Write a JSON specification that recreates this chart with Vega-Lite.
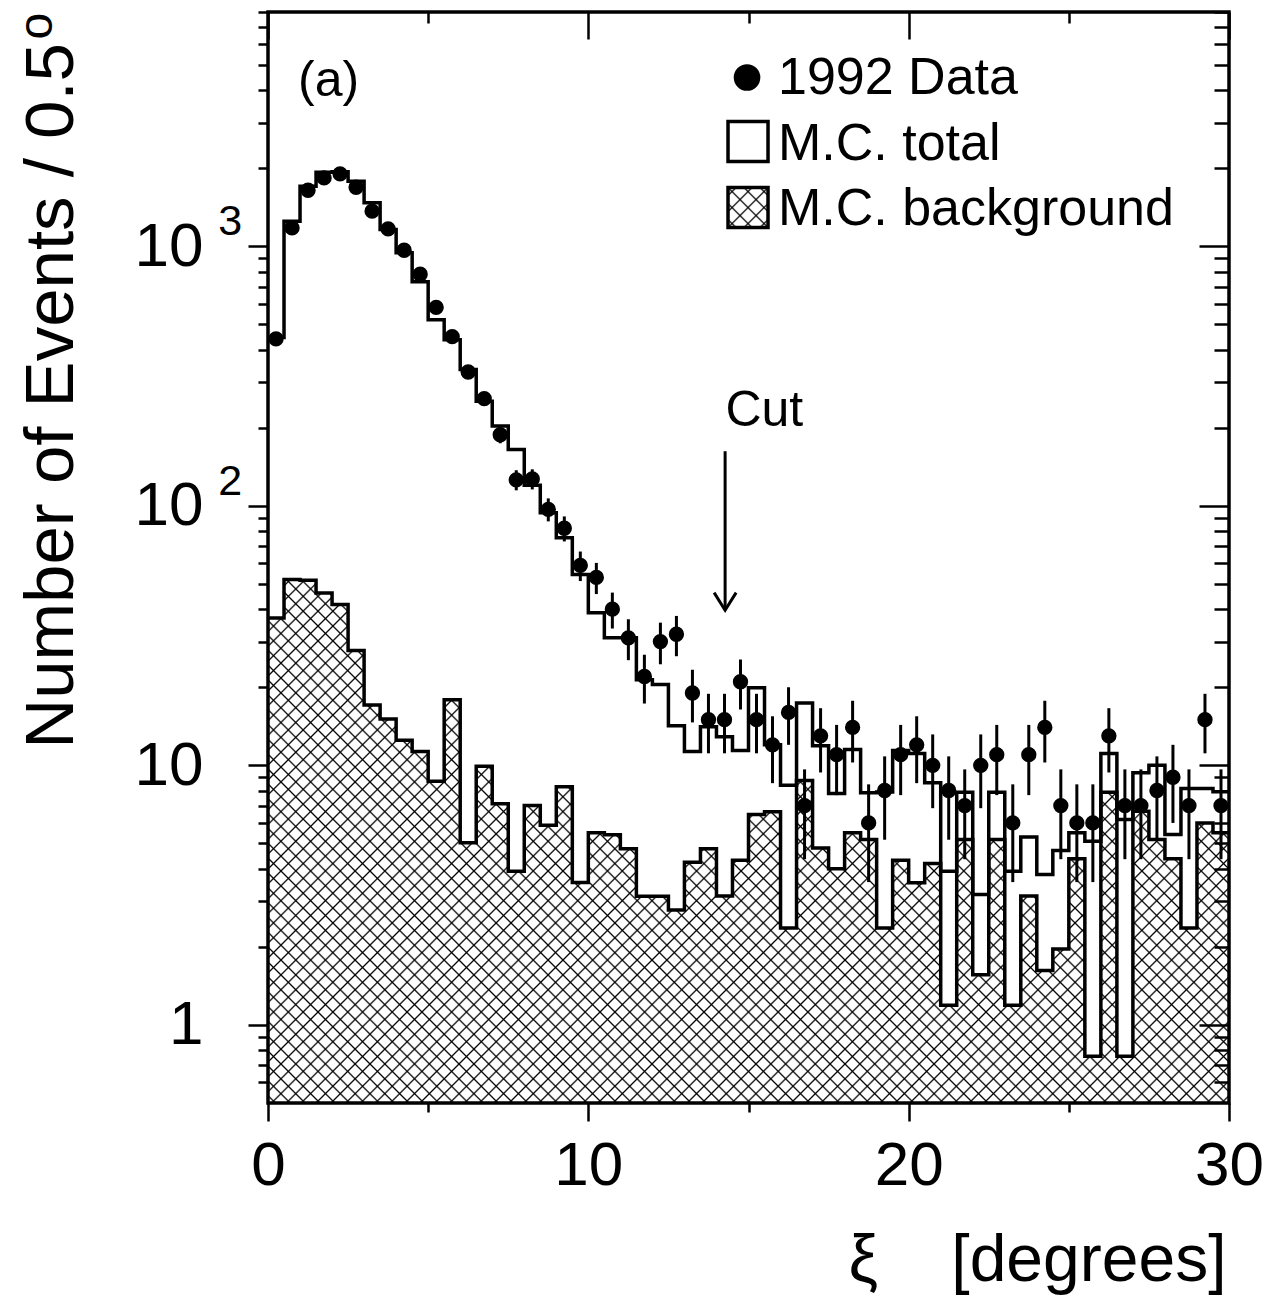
{
"$schema": "https://vega.github.io/schema/vega-lite/v6.json",
"width": 961, "height": 1091,
"autosize": "none",
"padding": {"left": 268, "top": 12, "right": 47, "bottom": 202},
"background": "white",
"config": {"view": {"stroke": "black", "strokeWidth": 3.5}, "font": "Liberation Sans"},
"datasets": {
"h": [
{"bin":0,"x0":0,"x1":0.5,"xc":0.25,"n":440,"lo":419.0,"hi":461.0,"tot":445,"bg":37.0},
{"bin":1,"x0":0.5,"x1":1.0,"xc":0.75,"n":1178,"lo":1143.7,"hi":1212.3,"tot":1250,"bg":52.0},
{"bin":2,"x0":1.0,"x1":1.5,"xc":1.25,"n":1645,"lo":1604.4,"hi":1685.6,"tot":1706,"bg":51.7},
{"bin":3,"x0":1.5,"x1":2.0,"xc":1.75,"n":1836,"lo":1793.2,"hi":1878.8,"tot":1931,"bg":46.2},
{"bin":4,"x0":2.0,"x1":2.5,"xc":2.25,"n":1903,"lo":1859.4,"hi":1946.6,"tot":1940,"bg":41.7},
{"bin":5,"x0":2.5,"x1":3.0,"xc":2.75,"n":1690,"lo":1648.9,"hi":1731.1,"tot":1780,"bg":27.7},
{"bin":6,"x0":3.0,"x1":3.5,"xc":3.25,"n":1367,"lo":1330.0,"hi":1404.0,"tot":1471,"bg":17.1},
{"bin":7,"x0":3.5,"x1":4.0,"xc":3.75,"n":1167,"lo":1132.8,"hi":1201.2,"tot":1161,"bg":15.1},
{"bin":8,"x0":4.0,"x1":4.5,"xc":4.25,"n":966,"lo":934.9,"hi":997.1,"tot":944,"bg":12.5},
{"bin":9,"x0":4.5,"x1":5.0,"xc":4.75,"n":781,"lo":753.1,"hi":809.0,"tot":730,"bg":11.3},
{"bin":10,"x0":5.0,"x1":5.5,"xc":5.25,"n":582,"lo":557.9,"hi":606.1,"tot":522,"bg":8.69},
{"bin":11,"x0":5.5,"x1":6.0,"xc":5.75,"n":449,"lo":427.8,"hi":470.2,"tot":437,"bg":17.9},
{"bin":12,"x0":6.0,"x1":6.5,"xc":6.25,"n":328,"lo":309.9,"hi":346.1,"tot":335,"bg":5.03},
{"bin":13,"x0":6.5,"x1":7.0,"xc":6.75,"n":259,"lo":242.9,"hi":275.1,"tot":253,"bg":9.93},
{"bin":14,"x0":7.0,"x1":7.5,"xc":7.25,"n":188,"lo":174.3,"hi":201.7,"tot":203,"bg":7.11},
{"bin":15,"x0":7.5,"x1":8.0,"xc":7.75,"n":126,"lo":114.8,"hi":137.2,"tot":165,"bg":3.91},
{"bin":16,"x0":8.0,"x1":8.5,"xc":8.25,"n":127,"lo":115.7,"hi":138.3,"tot":120,"bg":7.0},
{"bin":17,"x0":8.5,"x1":9.0,"xc":8.75,"n":97,"lo":87.15,"hi":106.85,"tot":94,"bg":5.88},
{"bin":18,"x0":9.0,"x1":9.5,"xc":9.25,"n":82,"lo":72.94,"hi":91.06,"tot":75.3,"bg":8.27},
{"bin":19,"x0":9.5,"x1":10.0,"xc":9.75,"n":59,"lo":51.32,"hi":66.68,"tot":54.4,"bg":3.54},
{"bin":20,"x0":10.0,"x1":10.5,"xc":10.25,"n":53,"lo":45.72,"hi":60.28,"tot":38.7,"bg":5.5},
{"bin":21,"x0":10.5,"x1":11.0,"xc":10.75,"n":40,"lo":33.68,"hi":46.32,"tot":31.0,"bg":5.4},
{"bin":22,"x0":11.0,"x1":11.5,"xc":11.25,"n":31,"lo":25.43,"hi":36.57,"tot":31.0,"bg":4.77},
{"bin":23,"x0":11.5,"x1":12.0,"xc":11.75,"n":22,"lo":17.31,"hi":26.69,"tot":21.4,"bg":3.13},
{"bin":24,"x0":12.0,"x1":12.5,"xc":12.25,"n":30,"lo":24.52,"hi":35.48,"tot":20.5,"bg":3.13},
{"bin":25,"x0":12.5,"x1":13.0,"xc":12.75,"n":32,"lo":26.34,"hi":37.66,"tot":14.2,"bg":2.77},
{"bin":26,"x0":13.0,"x1":13.5,"xc":13.25,"n":19,"lo":14.64,"hi":23.36,"tot":11.3,"bg":4.23},
{"bin":27,"x0":13.5,"x1":14.0,"xc":13.75,"n":15,"lo":11.13,"hi":18.87,"tot":14.1,"bg":4.77},
{"bin":28,"x0":14.0,"x1":14.5,"xc":14.25,"n":15,"lo":11.13,"hi":18.87,"tot":12.9,"bg":3.14},
{"bin":29,"x0":14.5,"x1":15.0,"xc":14.75,"n":21,"lo":16.42,"hi":25.58,"tot":11.4,"bg":4.31},
{"bin":30,"x0":15.0,"x1":15.5,"xc":15.25,"n":15,"lo":11.13,"hi":18.87,"tot":19.9,"bg":6.46},
{"bin":31,"x0":15.5,"x1":16.0,"xc":15.75,"n":12,"lo":8.54,"hi":15.46,"tot":12.0,"bg":6.62},
{"bin":32,"x0":16.0,"x1":16.5,"xc":16.25,"n":16,"lo":12,"hi":20,"tot":8.38,"bg":2.36},
{"bin":33,"x0":16.5,"x1":17.0,"xc":16.75,"n":7,"lo":4.35,"hi":9.65,"tot":17.4,"bg":8.74},
{"bin":34,"x0":17.0,"x1":17.5,"xc":17.25,"n":13,"lo":9.39,"hi":16.61,"tot":11.9,"bg":4.8},
{"bin":35,"x0":17.5,"x1":18.0,"xc":17.75,"n":11,"lo":7.68,"hi":14.32,"tot":7.8,"bg":4.0},
{"bin":36,"x0":18.0,"x1":18.5,"xc":18.25,"n":14,"lo":10.26,"hi":17.74,"tot":11.5,"bg":5.5},
{"bin":37,"x0":18.5,"x1":19.0,"xc":18.75,"n":6,"lo":3.55,"hi":8.45,"tot":7.85,"bg":5.18},
{"bin":38,"x0":19.0,"x1":19.5,"xc":19.25,"n":8,"lo":5.17,"hi":10.83,"tot":7.9,"bg":2.36},
{"bin":39,"x0":19.5,"x1":20.0,"xc":19.75,"n":11,"lo":7.68,"hi":14.32,"tot":11.4,"bg":4.31},
{"bin":40,"x0":20.0,"x1":20.5,"xc":20.25,"n":12,"lo":8.54,"hi":15.46,"tot":11.1,"bg":3.53},
{"bin":41,"x0":20.5,"x1":21.0,"xc":20.75,"n":10,"lo":6.84,"hi":13.16,"tot":8.57,"bg":4.19},
{"bin":42,"x0":21.0,"x1":21.5,"xc":21.25,"n":8,"lo":5.17,"hi":10.83,"tot":3.91,"bg":1.19},
{"bin":43,"x0":21.5,"x1":22.0,"xc":21.75,"n":7,"lo":4.35,"hi":9.65,"tot":7.88,"bg":5.18},
{"bin":44,"x0":22.0,"x1":22.5,"xc":22.25,"n":10,"lo":6.84,"hi":13.16,"tot":3.18,"bg":1.56},
{"bin":45,"x0":22.5,"x1":23.0,"xc":22.75,"n":11,"lo":7.68,"hi":14.32,"tot":7.88,"bg":5.18},
{"bin":46,"x0":23.0,"x1":23.5,"xc":23.25,"n":6,"lo":3.55,"hi":8.45,"tot":3.91,"bg":1.19},
{"bin":47,"x0":23.5,"x1":24.0,"xc":23.75,"n":11,"lo":7.68,"hi":14.32,"tot":5.3,"bg":3.14},
{"bin":48,"x0":24.0,"x1":24.5,"xc":24.25,"n":14,"lo":10.26,"hi":17.74,"tot":3.8,"bg":1.62},
{"bin":49,"x0":24.5,"x1":25.0,"xc":24.75,"n":7,"lo":4.35,"hi":9.65,"tot":4.7,"bg":1.96},
{"bin":50,"x0":25.0,"x1":25.5,"xc":25.25,"n":6,"lo":3.55,"hi":8.45,"tot":5.5,"bg":4.37},
{"bin":51,"x0":25.5,"x1":26.0,"xc":25.75,"n":6,"lo":3.55,"hi":8.45,"tot":5.1,"bg":0.757},
{"bin":52,"x0":26.0,"x1":26.5,"xc":26.25,"n":13,"lo":9.39,"hi":16.61,"tot":11.1,"bg":7.88},
{"bin":53,"x0":26.5,"x1":27.0,"xc":26.75,"n":7,"lo":4.35,"hi":9.65,"tot":6.18,"bg":0.757},
{"bin":54,"x0":27.0,"x1":27.5,"xc":27.25,"n":7,"lo":4.35,"hi":9.65,"tot":9.36,"bg":6.66},
{"bin":55,"x0":27.5,"x1":28.0,"xc":27.75,"n":8,"lo":5.17,"hi":10.83,"tot":10.0,"bg":5.18},
{"bin":56,"x0":28.0,"x1":28.5,"xc":28.25,"n":9,"lo":6,"hi":12,"tot":5.41,"bg":4.37},
{"bin":57,"x0":28.5,"x1":29.0,"xc":28.75,"n":7,"lo":4.35,"hi":9.65,"tot":8.14,"bg":2.36},
{"bin":58,"x0":29.0,"x1":29.5,"xc":29.25,"n":15,"lo":11.13,"hi":18.87,"tot":8.14,"bg":6.0},
{"bin":59,"x0":29.5,"x1":30.0,"xc":29.75,"n":7,"lo":4.35,"hi":9.65,"tot":7.91,"bg":5.5}
]
},
"resolve": {"axis": {"x": "independent", "y": "independent"}},
"layer": [
{
"data": {"name": "h"},
"transform": [{"fold": ["x0", "x1"], "as": ["edge", "xe"]}],
"mark": {"type": "area", "orient": "vertical", "opacity": 1, "fill": {"gradient": "linear", "x1": 0, "y1": 0, "x2": 1.19126, "y2": 0.64884, "stops": [
{"offset":0.0038,"color":"transparent"},{"offset":0.005,"color":"#000"},{"offset":0.0062,"color":"transparent"},
{"offset":0.0138,"color":"transparent"},{"offset":0.015,"color":"#000"},{"offset":0.0162,"color":"transparent"},
{"offset":0.0238,"color":"transparent"},{"offset":0.025,"color":"#000"},{"offset":0.0262,"color":"transparent"},
{"offset":0.0338,"color":"transparent"},{"offset":0.035,"color":"#000"},{"offset":0.0362,"color":"transparent"},
{"offset":0.0438,"color":"transparent"},{"offset":0.045,"color":"#000"},{"offset":0.0462,"color":"transparent"},
{"offset":0.0538,"color":"transparent"},{"offset":0.055,"color":"#000"},{"offset":0.0562,"color":"transparent"},
{"offset":0.0638,"color":"transparent"},{"offset":0.065,"color":"#000"},{"offset":0.0662,"color":"transparent"},
{"offset":0.0738,"color":"transparent"},{"offset":0.075,"color":"#000"},{"offset":0.0762,"color":"transparent"},
{"offset":0.0838,"color":"transparent"},{"offset":0.085,"color":"#000"},{"offset":0.0862,"color":"transparent"},
{"offset":0.0938,"color":"transparent"},{"offset":0.095,"color":"#000"},{"offset":0.0962,"color":"transparent"},
{"offset":0.1038,"color":"transparent"},{"offset":0.105,"color":"#000"},{"offset":0.1062,"color":"transparent"},
{"offset":0.1138,"color":"transparent"},{"offset":0.115,"color":"#000"},{"offset":0.1162,"color":"transparent"},
{"offset":0.1238,"color":"transparent"},{"offset":0.125,"color":"#000"},{"offset":0.1262,"color":"transparent"},
{"offset":0.1338,"color":"transparent"},{"offset":0.135,"color":"#000"},{"offset":0.1362,"color":"transparent"},
{"offset":0.1438,"color":"transparent"},{"offset":0.145,"color":"#000"},{"offset":0.1462,"color":"transparent"},
{"offset":0.1538,"color":"transparent"},{"offset":0.155,"color":"#000"},{"offset":0.1562,"color":"transparent"},
{"offset":0.1638,"color":"transparent"},{"offset":0.165,"color":"#000"},{"offset":0.1662,"color":"transparent"},
{"offset":0.1738,"color":"transparent"},{"offset":0.175,"color":"#000"},{"offset":0.1762,"color":"transparent"},
{"offset":0.1838,"color":"transparent"},{"offset":0.185,"color":"#000"},{"offset":0.1862,"color":"transparent"},
{"offset":0.1938,"color":"transparent"},{"offset":0.195,"color":"#000"},{"offset":0.1962,"color":"transparent"},
{"offset":0.2038,"color":"transparent"},{"offset":0.205,"color":"#000"},{"offset":0.2062,"color":"transparent"},
{"offset":0.2138,"color":"transparent"},{"offset":0.215,"color":"#000"},{"offset":0.2162,"color":"transparent"},
{"offset":0.2238,"color":"transparent"},{"offset":0.225,"color":"#000"},{"offset":0.2262,"color":"transparent"},
{"offset":0.2338,"color":"transparent"},{"offset":0.235,"color":"#000"},{"offset":0.2362,"color":"transparent"},
{"offset":0.2438,"color":"transparent"},{"offset":0.245,"color":"#000"},{"offset":0.2462,"color":"transparent"},
{"offset":0.2538,"color":"transparent"},{"offset":0.255,"color":"#000"},{"offset":0.2562,"color":"transparent"},
{"offset":0.2638,"color":"transparent"},{"offset":0.265,"color":"#000"},{"offset":0.2662,"color":"transparent"},
{"offset":0.2738,"color":"transparent"},{"offset":0.275,"color":"#000"},{"offset":0.2762,"color":"transparent"},
{"offset":0.2838,"color":"transparent"},{"offset":0.285,"color":"#000"},{"offset":0.2862,"color":"transparent"},
{"offset":0.2938,"color":"transparent"},{"offset":0.295,"color":"#000"},{"offset":0.2962,"color":"transparent"},
{"offset":0.3038,"color":"transparent"},{"offset":0.305,"color":"#000"},{"offset":0.3062,"color":"transparent"},
{"offset":0.3138,"color":"transparent"},{"offset":0.315,"color":"#000"},{"offset":0.3162,"color":"transparent"},
{"offset":0.3238,"color":"transparent"},{"offset":0.325,"color":"#000"},{"offset":0.3262,"color":"transparent"},
{"offset":0.3338,"color":"transparent"},{"offset":0.335,"color":"#000"},{"offset":0.3362,"color":"transparent"},
{"offset":0.3438,"color":"transparent"},{"offset":0.345,"color":"#000"},{"offset":0.3462,"color":"transparent"},
{"offset":0.3538,"color":"transparent"},{"offset":0.355,"color":"#000"},{"offset":0.3562,"color":"transparent"},
{"offset":0.3638,"color":"transparent"},{"offset":0.365,"color":"#000"},{"offset":0.3662,"color":"transparent"},
{"offset":0.3738,"color":"transparent"},{"offset":0.375,"color":"#000"},{"offset":0.3762,"color":"transparent"},
{"offset":0.3838,"color":"transparent"},{"offset":0.385,"color":"#000"},{"offset":0.3862,"color":"transparent"},
{"offset":0.3938,"color":"transparent"},{"offset":0.395,"color":"#000"},{"offset":0.3962,"color":"transparent"},
{"offset":0.4038,"color":"transparent"},{"offset":0.405,"color":"#000"},{"offset":0.4062,"color":"transparent"},
{"offset":0.4138,"color":"transparent"},{"offset":0.415,"color":"#000"},{"offset":0.4162,"color":"transparent"},
{"offset":0.4238,"color":"transparent"},{"offset":0.425,"color":"#000"},{"offset":0.4262,"color":"transparent"},
{"offset":0.4338,"color":"transparent"},{"offset":0.435,"color":"#000"},{"offset":0.4362,"color":"transparent"},
{"offset":0.4438,"color":"transparent"},{"offset":0.445,"color":"#000"},{"offset":0.4462,"color":"transparent"},
{"offset":0.4538,"color":"transparent"},{"offset":0.455,"color":"#000"},{"offset":0.4562,"color":"transparent"},
{"offset":0.4638,"color":"transparent"},{"offset":0.465,"color":"#000"},{"offset":0.4662,"color":"transparent"},
{"offset":0.4738,"color":"transparent"},{"offset":0.475,"color":"#000"},{"offset":0.4762,"color":"transparent"},
{"offset":0.4838,"color":"transparent"},{"offset":0.485,"color":"#000"},{"offset":0.4862,"color":"transparent"},
{"offset":0.4938,"color":"transparent"},{"offset":0.495,"color":"#000"},{"offset":0.4962,"color":"transparent"},
{"offset":0.5038,"color":"transparent"},{"offset":0.505,"color":"#000"},{"offset":0.5062,"color":"transparent"},
{"offset":0.5138,"color":"transparent"},{"offset":0.515,"color":"#000"},{"offset":0.5162,"color":"transparent"},
{"offset":0.5238,"color":"transparent"},{"offset":0.525,"color":"#000"},{"offset":0.5262,"color":"transparent"},
{"offset":0.5338,"color":"transparent"},{"offset":0.535,"color":"#000"},{"offset":0.5362,"color":"transparent"},
{"offset":0.5438,"color":"transparent"},{"offset":0.545,"color":"#000"},{"offset":0.5462,"color":"transparent"},
{"offset":0.5538,"color":"transparent"},{"offset":0.555,"color":"#000"},{"offset":0.5562,"color":"transparent"},
{"offset":0.5638,"color":"transparent"},{"offset":0.565,"color":"#000"},{"offset":0.5662,"color":"transparent"},
{"offset":0.5738,"color":"transparent"},{"offset":0.575,"color":"#000"},{"offset":0.5762,"color":"transparent"},
{"offset":0.5838,"color":"transparent"},{"offset":0.585,"color":"#000"},{"offset":0.5862,"color":"transparent"},
{"offset":0.5938,"color":"transparent"},{"offset":0.595,"color":"#000"},{"offset":0.5962,"color":"transparent"},
{"offset":0.6038,"color":"transparent"},{"offset":0.605,"color":"#000"},{"offset":0.6062,"color":"transparent"},
{"offset":0.6138,"color":"transparent"},{"offset":0.615,"color":"#000"},{"offset":0.6162,"color":"transparent"},
{"offset":0.6238,"color":"transparent"},{"offset":0.625,"color":"#000"},{"offset":0.6262,"color":"transparent"},
{"offset":0.6338,"color":"transparent"},{"offset":0.635,"color":"#000"},{"offset":0.6362,"color":"transparent"},
{"offset":0.6438,"color":"transparent"},{"offset":0.645,"color":"#000"},{"offset":0.6462,"color":"transparent"},
{"offset":0.6538,"color":"transparent"},{"offset":0.655,"color":"#000"},{"offset":0.6562,"color":"transparent"},
{"offset":0.6638,"color":"transparent"},{"offset":0.665,"color":"#000"},{"offset":0.6662,"color":"transparent"},
{"offset":0.6738,"color":"transparent"},{"offset":0.675,"color":"#000"},{"offset":0.6762,"color":"transparent"},
{"offset":0.6838,"color":"transparent"},{"offset":0.685,"color":"#000"},{"offset":0.6862,"color":"transparent"},
{"offset":0.6938,"color":"transparent"},{"offset":0.695,"color":"#000"},{"offset":0.6962,"color":"transparent"},
{"offset":0.7038,"color":"transparent"},{"offset":0.705,"color":"#000"},{"offset":0.7062,"color":"transparent"},
{"offset":0.7138,"color":"transparent"},{"offset":0.715,"color":"#000"},{"offset":0.7162,"color":"transparent"},
{"offset":0.7238,"color":"transparent"},{"offset":0.725,"color":"#000"},{"offset":0.7262,"color":"transparent"},
{"offset":0.7338,"color":"transparent"},{"offset":0.735,"color":"#000"},{"offset":0.7362,"color":"transparent"},
{"offset":0.7438,"color":"transparent"},{"offset":0.745,"color":"#000"},{"offset":0.7462,"color":"transparent"},
{"offset":0.7538,"color":"transparent"},{"offset":0.755,"color":"#000"},{"offset":0.7562,"color":"transparent"},
{"offset":0.7638,"color":"transparent"},{"offset":0.765,"color":"#000"},{"offset":0.7662,"color":"transparent"},
{"offset":0.7738,"color":"transparent"},{"offset":0.775,"color":"#000"},{"offset":0.7762,"color":"transparent"},
{"offset":0.7838,"color":"transparent"},{"offset":0.785,"color":"#000"},{"offset":0.7862,"color":"transparent"},
{"offset":0.7938,"color":"transparent"},{"offset":0.795,"color":"#000"},{"offset":0.7962,"color":"transparent"},
{"offset":0.8038,"color":"transparent"},{"offset":0.805,"color":"#000"},{"offset":0.8062,"color":"transparent"},
{"offset":0.8138,"color":"transparent"},{"offset":0.815,"color":"#000"},{"offset":0.8162,"color":"transparent"},
{"offset":0.8238,"color":"transparent"},{"offset":0.825,"color":"#000"},{"offset":0.8262,"color":"transparent"},
{"offset":0.8338,"color":"transparent"},{"offset":0.835,"color":"#000"},{"offset":0.8362,"color":"transparent"},
{"offset":0.8438,"color":"transparent"},{"offset":0.845,"color":"#000"},{"offset":0.8462,"color":"transparent"},
{"offset":0.8538,"color":"transparent"},{"offset":0.855,"color":"#000"},{"offset":0.8562,"color":"transparent"},
{"offset":0.8638,"color":"transparent"},{"offset":0.865,"color":"#000"},{"offset":0.8662,"color":"transparent"},
{"offset":0.8738,"color":"transparent"},{"offset":0.875,"color":"#000"},{"offset":0.8762,"color":"transparent"},
{"offset":0.8838,"color":"transparent"},{"offset":0.885,"color":"#000"},{"offset":0.8862,"color":"transparent"},
{"offset":0.8938,"color":"transparent"},{"offset":0.895,"color":"#000"},{"offset":0.8962,"color":"transparent"},
{"offset":0.9038,"color":"transparent"},{"offset":0.905,"color":"#000"},{"offset":0.9062,"color":"transparent"},
{"offset":0.9138,"color":"transparent"},{"offset":0.915,"color":"#000"},{"offset":0.9162,"color":"transparent"},
{"offset":0.9238,"color":"transparent"},{"offset":0.925,"color":"#000"},{"offset":0.9262,"color":"transparent"},
{"offset":0.9338,"color":"transparent"},{"offset":0.935,"color":"#000"},{"offset":0.9362,"color":"transparent"},
{"offset":0.9438,"color":"transparent"},{"offset":0.945,"color":"#000"},{"offset":0.9462,"color":"transparent"},
{"offset":0.9538,"color":"transparent"},{"offset":0.955,"color":"#000"},{"offset":0.9562,"color":"transparent"},
{"offset":0.9638,"color":"transparent"},{"offset":0.965,"color":"#000"},{"offset":0.9662,"color":"transparent"},
{"offset":0.9738,"color":"transparent"},{"offset":0.975,"color":"#000"},{"offset":0.9762,"color":"transparent"},
{"offset":0.9838,"color":"transparent"},{"offset":0.985,"color":"#000"},{"offset":0.9862,"color":"transparent"},
{"offset":0.9938,"color":"transparent"},{"offset":0.995,"color":"#000"},{"offset":0.9962,"color":"transparent"}
]}},
"encoding": {
"x": {"field": "xe", "type": "quantitative", "scale": {"domain": [0, 30], "nice": false, "zero": false},
"axis": {"orient": "bottom", "values": [0, 5, 10, 15, 20, 25, 30], "labelExpr": "datum.value % 10 == 0 ? datum.label : ''",
"tickSize": {"condition": {"test": "datum.value % 10 == 0", "value": 18}, "value": 9},
"tickWidth": 2.5, "tickColor": "black", "domain": false, "grid": false,
"labelFont": "Liberation Sans", "labelFontSize": 62, "labelColor": "black", "labelPadding": 14, "labelBaseline": "top", "labelAlign": "center",
"labelFlush": false, "labelOverlap": false, "labelBound": false,
"title": "ξ\u00a0\u00a0\u00a0\u00a0[degrees]", "titleFont": "Liberation Sans", "titleFontSize": 66, "titleFontWeight": "normal", "titleColor": "black",
"titleX": 958, "titleY": 177, "titleAlign": "right", "titleAnchor": "end", "titleBaseline": "alphabetic"}},
"y": {"field": "bg", "type": "quantitative", "scale": {"type": "log", "domain": [0.5, 8000], "nice": false},
"axis": {"orient": "left", "values": [0.6,0.7,0.8,0.9,1,2,3,4,5,6,7,8,9,10,20,30,40,50,60,70,80,90,100,200,300,400,500,600,700,800,900,1000,2000,3000,4000,5000,6000,7000,8000],
"labelExpr": "datum.value == 1 ? '1' : (datum.value == 10 || datum.value == 100 || datum.value == 1000) ? '10' : ''",
"tickSize": {"condition": {"test": "datum.value == 1 || datum.value == 10 || datum.value == 100 || datum.value == 1000", "value": 20}, "value": 10},
"tickWidth": 2.5, "tickColor": "black", "domain": false, "grid": false,
"labelFont": "Liberation Sans", "labelFontSize": 62, "labelColor": "black", "labelPadding": 45, "labelAlign": "right", "labelBaseline": "middle",
"labelFlush": false, "labelOverlap": false, "labelBound": false,
"title": "Number of Events / 0.5", "titleFont": "Liberation Sans", "titleFontSize": 69, "titleFontWeight": "normal", "titleColor": "black",
"titleX": -196, "titleY": 30.5, "titleAngle": 270, "titleAlign": "right", "titleAnchor": "end", "titleBaseline": "alphabetic"}},
"y2": {"datum": 0.5},
"order": [{"field": "bin", "type": "quantitative"}, {"field": "edge", "type": "ordinal"}]
}
},
{
"data": {"name": "h"},
"transform": [{"fold": ["x0", "x1"], "as": ["edge", "xe"]}],
"mark": {"type": "area", "orient": "vertical", "opacity": 1, "fill": {"gradient": "linear", "x1": 0, "y1": 1, "x2": 1.19126, "y2": 0.35116, "stops": [
{"offset":0.0038,"color":"transparent"},{"offset":0.005,"color":"#000"},{"offset":0.0062,"color":"transparent"},
{"offset":0.0138,"color":"transparent"},{"offset":0.015,"color":"#000"},{"offset":0.0162,"color":"transparent"},
{"offset":0.0238,"color":"transparent"},{"offset":0.025,"color":"#000"},{"offset":0.0262,"color":"transparent"},
{"offset":0.0338,"color":"transparent"},{"offset":0.035,"color":"#000"},{"offset":0.0362,"color":"transparent"},
{"offset":0.0438,"color":"transparent"},{"offset":0.045,"color":"#000"},{"offset":0.0462,"color":"transparent"},
{"offset":0.0538,"color":"transparent"},{"offset":0.055,"color":"#000"},{"offset":0.0562,"color":"transparent"},
{"offset":0.0638,"color":"transparent"},{"offset":0.065,"color":"#000"},{"offset":0.0662,"color":"transparent"},
{"offset":0.0738,"color":"transparent"},{"offset":0.075,"color":"#000"},{"offset":0.0762,"color":"transparent"},
{"offset":0.0838,"color":"transparent"},{"offset":0.085,"color":"#000"},{"offset":0.0862,"color":"transparent"},
{"offset":0.0938,"color":"transparent"},{"offset":0.095,"color":"#000"},{"offset":0.0962,"color":"transparent"},
{"offset":0.1038,"color":"transparent"},{"offset":0.105,"color":"#000"},{"offset":0.1062,"color":"transparent"},
{"offset":0.1138,"color":"transparent"},{"offset":0.115,"color":"#000"},{"offset":0.1162,"color":"transparent"},
{"offset":0.1238,"color":"transparent"},{"offset":0.125,"color":"#000"},{"offset":0.1262,"color":"transparent"},
{"offset":0.1338,"color":"transparent"},{"offset":0.135,"color":"#000"},{"offset":0.1362,"color":"transparent"},
{"offset":0.1438,"color":"transparent"},{"offset":0.145,"color":"#000"},{"offset":0.1462,"color":"transparent"},
{"offset":0.1538,"color":"transparent"},{"offset":0.155,"color":"#000"},{"offset":0.1562,"color":"transparent"},
{"offset":0.1638,"color":"transparent"},{"offset":0.165,"color":"#000"},{"offset":0.1662,"color":"transparent"},
{"offset":0.1738,"color":"transparent"},{"offset":0.175,"color":"#000"},{"offset":0.1762,"color":"transparent"},
{"offset":0.1838,"color":"transparent"},{"offset":0.185,"color":"#000"},{"offset":0.1862,"color":"transparent"},
{"offset":0.1938,"color":"transparent"},{"offset":0.195,"color":"#000"},{"offset":0.1962,"color":"transparent"},
{"offset":0.2038,"color":"transparent"},{"offset":0.205,"color":"#000"},{"offset":0.2062,"color":"transparent"},
{"offset":0.2138,"color":"transparent"},{"offset":0.215,"color":"#000"},{"offset":0.2162,"color":"transparent"},
{"offset":0.2238,"color":"transparent"},{"offset":0.225,"color":"#000"},{"offset":0.2262,"color":"transparent"},
{"offset":0.2338,"color":"transparent"},{"offset":0.235,"color":"#000"},{"offset":0.2362,"color":"transparent"},
{"offset":0.2438,"color":"transparent"},{"offset":0.245,"color":"#000"},{"offset":0.2462,"color":"transparent"},
{"offset":0.2538,"color":"transparent"},{"offset":0.255,"color":"#000"},{"offset":0.2562,"color":"transparent"},
{"offset":0.2638,"color":"transparent"},{"offset":0.265,"color":"#000"},{"offset":0.2662,"color":"transparent"},
{"offset":0.2738,"color":"transparent"},{"offset":0.275,"color":"#000"},{"offset":0.2762,"color":"transparent"},
{"offset":0.2838,"color":"transparent"},{"offset":0.285,"color":"#000"},{"offset":0.2862,"color":"transparent"},
{"offset":0.2938,"color":"transparent"},{"offset":0.295,"color":"#000"},{"offset":0.2962,"color":"transparent"},
{"offset":0.3038,"color":"transparent"},{"offset":0.305,"color":"#000"},{"offset":0.3062,"color":"transparent"},
{"offset":0.3138,"color":"transparent"},{"offset":0.315,"color":"#000"},{"offset":0.3162,"color":"transparent"},
{"offset":0.3238,"color":"transparent"},{"offset":0.325,"color":"#000"},{"offset":0.3262,"color":"transparent"},
{"offset":0.3338,"color":"transparent"},{"offset":0.335,"color":"#000"},{"offset":0.3362,"color":"transparent"},
{"offset":0.3438,"color":"transparent"},{"offset":0.345,"color":"#000"},{"offset":0.3462,"color":"transparent"},
{"offset":0.3538,"color":"transparent"},{"offset":0.355,"color":"#000"},{"offset":0.3562,"color":"transparent"},
{"offset":0.3638,"color":"transparent"},{"offset":0.365,"color":"#000"},{"offset":0.3662,"color":"transparent"},
{"offset":0.3738,"color":"transparent"},{"offset":0.375,"color":"#000"},{"offset":0.3762,"color":"transparent"},
{"offset":0.3838,"color":"transparent"},{"offset":0.385,"color":"#000"},{"offset":0.3862,"color":"transparent"},
{"offset":0.3938,"color":"transparent"},{"offset":0.395,"color":"#000"},{"offset":0.3962,"color":"transparent"},
{"offset":0.4038,"color":"transparent"},{"offset":0.405,"color":"#000"},{"offset":0.4062,"color":"transparent"},
{"offset":0.4138,"color":"transparent"},{"offset":0.415,"color":"#000"},{"offset":0.4162,"color":"transparent"},
{"offset":0.4238,"color":"transparent"},{"offset":0.425,"color":"#000"},{"offset":0.4262,"color":"transparent"},
{"offset":0.4338,"color":"transparent"},{"offset":0.435,"color":"#000"},{"offset":0.4362,"color":"transparent"},
{"offset":0.4438,"color":"transparent"},{"offset":0.445,"color":"#000"},{"offset":0.4462,"color":"transparent"},
{"offset":0.4538,"color":"transparent"},{"offset":0.455,"color":"#000"},{"offset":0.4562,"color":"transparent"},
{"offset":0.4638,"color":"transparent"},{"offset":0.465,"color":"#000"},{"offset":0.4662,"color":"transparent"},
{"offset":0.4738,"color":"transparent"},{"offset":0.475,"color":"#000"},{"offset":0.4762,"color":"transparent"},
{"offset":0.4838,"color":"transparent"},{"offset":0.485,"color":"#000"},{"offset":0.4862,"color":"transparent"},
{"offset":0.4938,"color":"transparent"},{"offset":0.495,"color":"#000"},{"offset":0.4962,"color":"transparent"},
{"offset":0.5038,"color":"transparent"},{"offset":0.505,"color":"#000"},{"offset":0.5062,"color":"transparent"},
{"offset":0.5138,"color":"transparent"},{"offset":0.515,"color":"#000"},{"offset":0.5162,"color":"transparent"},
{"offset":0.5238,"color":"transparent"},{"offset":0.525,"color":"#000"},{"offset":0.5262,"color":"transparent"},
{"offset":0.5338,"color":"transparent"},{"offset":0.535,"color":"#000"},{"offset":0.5362,"color":"transparent"},
{"offset":0.5438,"color":"transparent"},{"offset":0.545,"color":"#000"},{"offset":0.5462,"color":"transparent"},
{"offset":0.5538,"color":"transparent"},{"offset":0.555,"color":"#000"},{"offset":0.5562,"color":"transparent"},
{"offset":0.5638,"color":"transparent"},{"offset":0.565,"color":"#000"},{"offset":0.5662,"color":"transparent"},
{"offset":0.5738,"color":"transparent"},{"offset":0.575,"color":"#000"},{"offset":0.5762,"color":"transparent"},
{"offset":0.5838,"color":"transparent"},{"offset":0.585,"color":"#000"},{"offset":0.5862,"color":"transparent"},
{"offset":0.5938,"color":"transparent"},{"offset":0.595,"color":"#000"},{"offset":0.5962,"color":"transparent"},
{"offset":0.6038,"color":"transparent"},{"offset":0.605,"color":"#000"},{"offset":0.6062,"color":"transparent"},
{"offset":0.6138,"color":"transparent"},{"offset":0.615,"color":"#000"},{"offset":0.6162,"color":"transparent"},
{"offset":0.6238,"color":"transparent"},{"offset":0.625,"color":"#000"},{"offset":0.6262,"color":"transparent"},
{"offset":0.6338,"color":"transparent"},{"offset":0.635,"color":"#000"},{"offset":0.6362,"color":"transparent"},
{"offset":0.6438,"color":"transparent"},{"offset":0.645,"color":"#000"},{"offset":0.6462,"color":"transparent"},
{"offset":0.6538,"color":"transparent"},{"offset":0.655,"color":"#000"},{"offset":0.6562,"color":"transparent"},
{"offset":0.6638,"color":"transparent"},{"offset":0.665,"color":"#000"},{"offset":0.6662,"color":"transparent"},
{"offset":0.6738,"color":"transparent"},{"offset":0.675,"color":"#000"},{"offset":0.6762,"color":"transparent"},
{"offset":0.6838,"color":"transparent"},{"offset":0.685,"color":"#000"},{"offset":0.6862,"color":"transparent"},
{"offset":0.6938,"color":"transparent"},{"offset":0.695,"color":"#000"},{"offset":0.6962,"color":"transparent"},
{"offset":0.7038,"color":"transparent"},{"offset":0.705,"color":"#000"},{"offset":0.7062,"color":"transparent"},
{"offset":0.7138,"color":"transparent"},{"offset":0.715,"color":"#000"},{"offset":0.7162,"color":"transparent"},
{"offset":0.7238,"color":"transparent"},{"offset":0.725,"color":"#000"},{"offset":0.7262,"color":"transparent"},
{"offset":0.7338,"color":"transparent"},{"offset":0.735,"color":"#000"},{"offset":0.7362,"color":"transparent"},
{"offset":0.7438,"color":"transparent"},{"offset":0.745,"color":"#000"},{"offset":0.7462,"color":"transparent"},
{"offset":0.7538,"color":"transparent"},{"offset":0.755,"color":"#000"},{"offset":0.7562,"color":"transparent"},
{"offset":0.7638,"color":"transparent"},{"offset":0.765,"color":"#000"},{"offset":0.7662,"color":"transparent"},
{"offset":0.7738,"color":"transparent"},{"offset":0.775,"color":"#000"},{"offset":0.7762,"color":"transparent"},
{"offset":0.7838,"color":"transparent"},{"offset":0.785,"color":"#000"},{"offset":0.7862,"color":"transparent"},
{"offset":0.7938,"color":"transparent"},{"offset":0.795,"color":"#000"},{"offset":0.7962,"color":"transparent"},
{"offset":0.8038,"color":"transparent"},{"offset":0.805,"color":"#000"},{"offset":0.8062,"color":"transparent"},
{"offset":0.8138,"color":"transparent"},{"offset":0.815,"color":"#000"},{"offset":0.8162,"color":"transparent"},
{"offset":0.8238,"color":"transparent"},{"offset":0.825,"color":"#000"},{"offset":0.8262,"color":"transparent"},
{"offset":0.8338,"color":"transparent"},{"offset":0.835,"color":"#000"},{"offset":0.8362,"color":"transparent"},
{"offset":0.8438,"color":"transparent"},{"offset":0.845,"color":"#000"},{"offset":0.8462,"color":"transparent"},
{"offset":0.8538,"color":"transparent"},{"offset":0.855,"color":"#000"},{"offset":0.8562,"color":"transparent"},
{"offset":0.8638,"color":"transparent"},{"offset":0.865,"color":"#000"},{"offset":0.8662,"color":"transparent"},
{"offset":0.8738,"color":"transparent"},{"offset":0.875,"color":"#000"},{"offset":0.8762,"color":"transparent"},
{"offset":0.8838,"color":"transparent"},{"offset":0.885,"color":"#000"},{"offset":0.8862,"color":"transparent"},
{"offset":0.8938,"color":"transparent"},{"offset":0.895,"color":"#000"},{"offset":0.8962,"color":"transparent"},
{"offset":0.9038,"color":"transparent"},{"offset":0.905,"color":"#000"},{"offset":0.9062,"color":"transparent"},
{"offset":0.9138,"color":"transparent"},{"offset":0.915,"color":"#000"},{"offset":0.9162,"color":"transparent"},
{"offset":0.9238,"color":"transparent"},{"offset":0.925,"color":"#000"},{"offset":0.9262,"color":"transparent"},
{"offset":0.9338,"color":"transparent"},{"offset":0.935,"color":"#000"},{"offset":0.9362,"color":"transparent"},
{"offset":0.9438,"color":"transparent"},{"offset":0.945,"color":"#000"},{"offset":0.9462,"color":"transparent"},
{"offset":0.9538,"color":"transparent"},{"offset":0.955,"color":"#000"},{"offset":0.9562,"color":"transparent"},
{"offset":0.9638,"color":"transparent"},{"offset":0.965,"color":"#000"},{"offset":0.9662,"color":"transparent"},
{"offset":0.9738,"color":"transparent"},{"offset":0.975,"color":"#000"},{"offset":0.9762,"color":"transparent"},
{"offset":0.9838,"color":"transparent"},{"offset":0.985,"color":"#000"},{"offset":0.9862,"color":"transparent"},
{"offset":0.9938,"color":"transparent"},{"offset":0.995,"color":"#000"},{"offset":0.9962,"color":"transparent"}
]}},
"encoding": {
"x": {"field": "xe", "type": "quantitative", "scale": {"domain": [0, 30], "nice": false, "zero": false},
"axis": {"orient": "top", "values": [0, 5, 10, 15, 20, 25, 30], "labels": false, "title": null, "domain": false, "grid": false,
"tickSize": {"condition": {"test": "datum.value % 10 == 0", "value": -27}, "value": -11}, "tickWidth": 2.5, "tickColor": "black"}},
"y": {"field": "bg", "type": "quantitative", "scale": {"type": "log", "domain": [0.5, 8000], "nice": false},
"axis": {"orient": "right", "values": [0.6,0.7,0.8,0.9,1,2,3,4,5,6,7,8,9,10,20,30,40,50,60,70,80,90,100,200,300,400,500,600,700,800,900,1000,2000,3000,4000,5000,6000,7000,8000],
"labels": false, "title": null, "domain": false, "grid": false,
"tickSize": {"condition": {"test": "datum.value == 1 || datum.value == 10 || datum.value == 100 || datum.value == 1000", "value": -30}, "value": -15}, "tickWidth": 2.5, "tickColor": "black"}},
"y2": {"datum": 0.5},
"order": [{"field": "bin", "type": "quantitative"}, {"field": "edge", "type": "ordinal"}]
}
},
{
"data": {"name": "h"},
"transform": [{"fold": ["x0", "x1"], "as": ["edge", "xe"]}],
"mark": {"type": "line", "color": "black", "strokeWidth": 3.5, "strokeJoin": "miter", "opacity": 1},
"encoding": {
"x": {"field": "xe", "type": "quantitative", "scale": {"domain": [0, 30], "nice": false, "zero": false}, "axis": null},
"y": {"field": "bg", "type": "quantitative", "scale": {"type": "log", "domain": [0.5, 8000], "nice": false}, "axis": null},
"order": [{"field": "bin", "type": "quantitative"}, {"field": "edge", "type": "ordinal"}]
}
},
{
"data": {"name": "h"},
"transform": [{"fold": ["x0", "x1"], "as": ["edge", "xe"]}],
"mark": {"type": "line", "color": "black", "strokeWidth": 3.5, "strokeJoin": "miter", "opacity": 1},
"encoding": {
"x": {"field": "xe", "type": "quantitative", "scale": {"domain": [0, 30], "nice": false, "zero": false}, "axis": null},
"y": {"field": "tot", "type": "quantitative", "scale": {"type": "log", "domain": [0.5, 8000], "nice": false}, "axis": null},
"order": [{"field": "bin", "type": "quantitative"}, {"field": "edge", "type": "ordinal"}]
}
},
{
"data": {"name": "h"},
"mark": {"type": "rule", "color": "black", "strokeWidth": 3, "opacity": 1},
"encoding": {
"x": {"field": "xc", "type": "quantitative", "scale": {"domain": [0, 30], "nice": false, "zero": false}, "axis": null},
"y": {"field": "lo", "type": "quantitative", "scale": {"type": "log", "domain": [0.5, 8000], "nice": false}, "axis": null},
"y2": {"field": "hi"}
}
},
{
"data": {"name": "h"},
"mark": {"type": "point", "shape": "circle", "filled": true, "color": "black", "size": 235, "opacity": 1},
"encoding": {
"x": {"field": "xc", "type": "quantitative", "scale": {"domain": [0, 30], "nice": false, "zero": false}, "axis": null},
"y": {"field": "n", "type": "quantitative", "scale": {"type": "log", "domain": [0.5, 8000], "nice": false}, "axis": null}
}
},
{
"data": {"values": [{"x": 0.94, "y": 3797, "t": "(a)"}, {"x": 14.28, "y": 204, "t": "Cut"}]},
"mark": {"type": "text", "font": "Liberation Sans", "fontSize": 50, "align": "left", "baseline": "alphabetic", "color": "black"},
"encoding": {
"x": {"field": "x", "type": "quantitative", "scale": {"domain": [0, 30], "nice": false, "zero": false}, "axis": null},
"y": {"field": "y", "type": "quantitative", "scale": {"type": "log", "domain": [0.5, 8000], "nice": false}, "axis": null},
"text": {"field": "t"}
}
},
{
"data": {"values": [{"x": 14.27, "y": 39.6, "y2": 162.4}]},
"mark": {"type": "rule", "color": "black", "strokeWidth": 3, "opacity": 1},
"encoding": {
"x": {"field": "x", "type": "quantitative", "scale": {"domain": [0, 30], "nice": false, "zero": false}, "axis": null},
"y": {"field": "y", "type": "quantitative", "scale": {"type": "log", "domain": [0.5, 8000], "nice": false}, "axis": null},
"y2": {"field": "y2"}
}
},
{
"data": {"values": [{"x": 14.27, "y": 39.6}]},
"mark": {"type": "point", "shape": "M-1,-1.6L0,0L1,-1.6", "filled": false, "stroke": "black", "strokeWidth": 3, "size": 484, "opacity": 1},
"encoding": {
"x": {"field": "x", "type": "quantitative", "scale": {"domain": [0, 30], "nice": false, "zero": false}, "axis": null},
"y": {"field": "y", "type": "quantitative", "scale": {"type": "log", "domain": [0.5, 8000], "nice": false}, "axis": null}
}
},
{
"data": {"values": [{"x": 14.954, "y": 4474}]},
"mark": {"type": "point", "shape": "circle", "filled": true, "color": "black", "size": 707, "opacity": 1},
"encoding": {
"x": {"field": "x", "type": "quantitative", "scale": {"domain": [0, 30], "nice": false, "zero": false}, "axis": null},
"y": {"field": "y", "type": "quantitative", "scale": {"type": "log", "domain": [0.5, 8000], "nice": false}, "axis": null}
}
},
{
"data": {"values": [{"x": 14.985, "y": 2536}]},
"mark": {"type": "point", "shape": "square", "filled": false, "stroke": "black", "strokeWidth": 3.5, "size": 1600, "opacity": 1},
"encoding": {
"x": {"field": "x", "type": "quantitative", "scale": {"domain": [0, 30], "nice": false, "zero": false}, "axis": null},
"y": {"field": "y", "type": "quantitative", "scale": {"type": "log", "domain": [0.5, 8000], "nice": false}, "axis": null}
}
},
{
"data": {"values": [{"x": 14.985, "y": 1411}]},
"mark": {"type": "point", "shape": "square", "filled": true, "size": 1600, "opacity": 1, "strokeWidth": 0,
"fill": {"gradient": "linear", "x1": 0, "y1": 1, "x2": 1, "y2": 0, "stops": [
{"offset":0.078,"color":"transparent"},{"offset":0.1,"color":"#000"},{"offset":0.122,"color":"transparent"},
{"offset":0.278,"color":"transparent"},{"offset":0.3,"color":"#000"},{"offset":0.322,"color":"transparent"},
{"offset":0.478,"color":"transparent"},{"offset":0.5,"color":"#000"},{"offset":0.522,"color":"transparent"},
{"offset":0.678,"color":"transparent"},{"offset":0.7,"color":"#000"},{"offset":0.722,"color":"transparent"},
{"offset":0.878,"color":"transparent"},{"offset":0.9,"color":"#000"},{"offset":0.922,"color":"transparent"}]}},
"encoding": {
"x": {"field": "x", "type": "quantitative", "scale": {"domain": [0, 30], "nice": false, "zero": false}, "axis": null},
"y": {"field": "y", "type": "quantitative", "scale": {"type": "log", "domain": [0.5, 8000], "nice": false}, "axis": null}
}
},
{
"data": {"values": [{"x": 14.985, "y": 1411}]},
"mark": {"type": "point", "shape": "square", "filled": true, "size": 1600, "opacity": 1, "stroke": "black", "strokeWidth": 3.5,
"fill": {"gradient": "linear", "x1": 0, "y1": 0, "x2": 1, "y2": 1, "stops": [
{"offset":0.078,"color":"transparent"},{"offset":0.1,"color":"#000"},{"offset":0.122,"color":"transparent"},
{"offset":0.278,"color":"transparent"},{"offset":0.3,"color":"#000"},{"offset":0.322,"color":"transparent"},
{"offset":0.478,"color":"transparent"},{"offset":0.5,"color":"#000"},{"offset":0.522,"color":"transparent"},
{"offset":0.678,"color":"transparent"},{"offset":0.7,"color":"#000"},{"offset":0.722,"color":"transparent"},
{"offset":0.878,"color":"transparent"},{"offset":0.9,"color":"#000"},{"offset":0.922,"color":"transparent"}]}},
"encoding": {
"x": {"field": "x", "type": "quantitative", "scale": {"domain": [0, 30], "nice": false, "zero": false}, "axis": null},
"y": {"field": "y", "type": "quantitative", "scale": {"type": "log", "domain": [0.5, 8000], "nice": false}, "axis": null}
}
},
{
"data": {"values": [{"x": 15.92, "y": 3848, "t": "1992 Data"}, {"x": 15.92, "y": 2161, "t": "M.C. total"}, {"x": 15.92, "y": 1214, "t": "M.C. background"}]},
"mark": {"type": "text", "font": "Liberation Sans", "fontSize": 52, "align": "left", "baseline": "alphabetic", "color": "black"},
"encoding": {
"x": {"field": "x", "type": "quantitative", "scale": {"domain": [0, 30], "nice": false, "zero": false}, "axis": null},
"y": {"field": "y", "type": "quantitative", "scale": {"type": "log", "domain": [0.5, 8000], "nice": false}, "axis": null},
"text": {"field": "t"}
}
},
{
"data": {"values": [{"x": -1.551, "y": 1110.7, "t": "3"}, {"x": -1.551, "y": 110.6, "t": "2"}]},
"mark": {"type": "text", "font": "Liberation Sans", "fontSize": 43, "align": "left", "baseline": "alphabetic", "color": "black"},
"encoding": {
"x": {"field": "x", "type": "quantitative", "scale": {"domain": [0, 30], "nice": false, "zero": false}, "axis": null},
"y": {"field": "y", "type": "quantitative", "scale": {"type": "log", "domain": [0.5, 8000], "nice": false}, "axis": null},
"text": {"field": "t"}
}
},
{
"data": {"values": [{"x": -6.743, "y": 6268, "t": "o"}]},
"mark": {"type": "text", "font": "Liberation Sans", "fontSize": 48, "align": "left", "baseline": "alphabetic", "angle": 270, "color": "black"},
"encoding": {
"x": {"field": "x", "type": "quantitative", "scale": {"domain": [0, 30], "nice": false, "zero": false}, "axis": null},
"y": {"field": "y", "type": "quantitative", "scale": {"type": "log", "domain": [0.5, 8000], "nice": false}, "axis": null},
"text": {"field": "t"}
}
}
]
}
